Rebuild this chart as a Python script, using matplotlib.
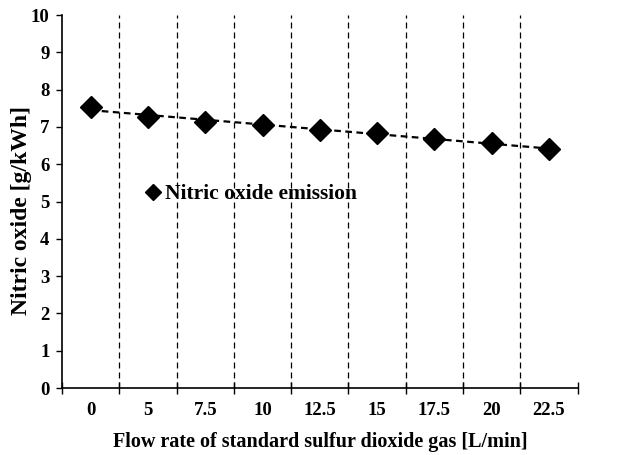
import matplotlib.pyplot as plt
import numpy as np

# === Data ===
flow_labels = ["0", "5", "7.5", "10", "12.5", "15", "17.5", "20", "22.5"]
nitric_oxide = [7.54, 7.26, 7.14, 7.05, 6.93, 6.83, 6.69, 6.58, 6.40]

plt.rcParams['font.family'] = ['Liberation Serif', 'DejaVu Serif']
plt.rcParams['font.weight'] = 'bold'

fig = plt.figure(figsize=(6.22, 4.55), dpi=100)
ax = fig.add_axes([0.0997, 0.147, 0.829, 0.820])

x = np.arange(1, len(flow_labels) + 1)
ax.plot(x, nitric_oxide, linestyle='none', marker='D', markersize=11,
        color='black', label='Nitric oxide emission', zorder=3)

# linear trend line (dashed)
coef = np.polyfit(x, nitric_oxide, 1)
ax.plot(x, np.polyval(coef, x), linestyle=(0, (3, 2)), color='black', linewidth=1.6)

# dashed vertical separators between categories
for b in np.arange(1.5, len(flow_labels), 1):
    ax.axvline(b, color='black', linestyle=(0, (4.8, 3.2)), linewidth=0.9)

ax.set_xlim(0.5, len(flow_labels) + 0.5)
ax.set_ylim(0, 10)
ax.set_yticks(range(0, 11))
ax.set_xticks(x)
ax.set_xticklabels(flow_labels)
ax.set_xticks(np.arange(0.5, len(flow_labels) + 1, 1), minor=True)
ax.tick_params(axis='x', which='major', length=0, pad=10, labelsize=13.5)
ax.tick_params(axis='x', which='minor', direction='inout', length=8, width=1)
ax.tick_params(axis='y', direction='out', length=4, width=1, labelsize=13.5, pad=5)

ax.spines['top'].set_visible(False)
ax.spines['right'].set_visible(False)
ax.spines['left'].set_linewidth(1.2)
ax.spines['bottom'].set_linewidth(1.2)

ax.set_xlabel("Flow rate of standard sulfur dioxide gas [L/min]", fontsize=14.5,
              fontweight='bold', labelpad=9)
ax.set_ylabel("Nitric oxide [g/kWh]", fontsize=17, fontweight='bold')
ax.yaxis.set_label_coords(-0.058, 0.475)

ax.legend(loc='upper left', bbox_to_anchor=(0.128, 0.598), frameon=False,
          fontsize=15.5, handlelength=0.5, handletextpad=0.3, markerscale=0.7)

plt.savefig("out.png", dpi=100)
